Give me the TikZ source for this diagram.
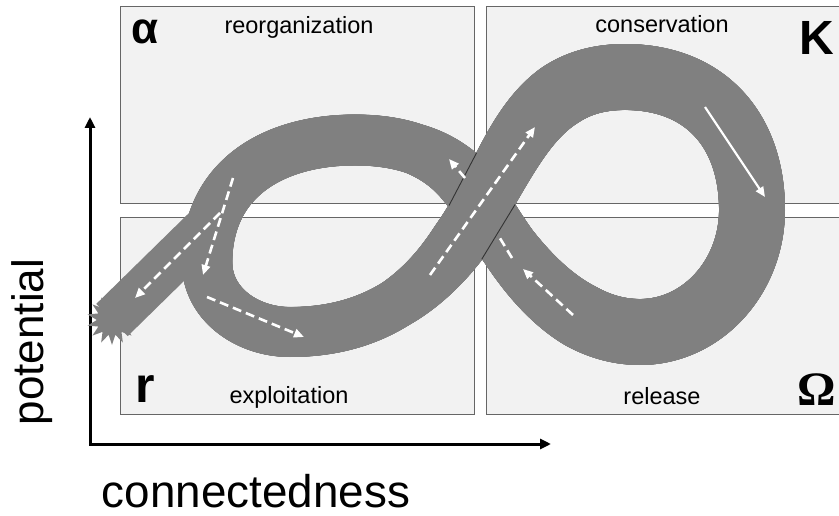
\documentclass[tikz,border=0pt]{standalone}
\usepackage{fontspec}
\setmainfont{Liberation Sans}
\newfontfamily\omegafont{Liberation Serif}
\usetikzlibrary{arrows.meta,shapes.geometric,decorations.markings}
\definecolor{bandgray}{HTML}{808080}
\definecolor{boxfill}{HTML}{F2F2F2}
\definecolor{boxline}{HTML}{666666}
\definecolor{edgeline}{HTML}{333333}
\def\bandA{.. controls (335.5,332) and (372.65,320.25) .. (403.85,298.5)}
\def\bandB{.. controls (435.05,276.75) and (460.3,245) .. (482,205)}
\def\bandC{.. controls (501.1,169.85) and (516.85,137.85) .. (537.83,114.64)}
\def\bandD{.. controls (558.8,91.43) and (585,77) .. (625,77)}
\def\bandE{.. controls (705,77) and (752,130) .. (752,210)}
\def\bandF{.. controls (752,277) and (702,332) .. (640,332)}
\def\bandG{.. controls (607.5,332) and (578.63,318.65) .. (552.56,296.1)}
\def\bandH{.. controls (526.5,273.55) and (503.25,241.8) .. (482,205)}
\def\bandI{.. controls (468.25,181.2) and (450.25,164.95) .. (428.81,154.65)}
\def\bandJ{.. controls (407.375,144.35) and (382.5,140) .. (355,140)}
\def\bandK{.. controls (272.5,140) and (207,179.5) .. (207,262)}
\def\bandL{.. controls (207,304.5) and (247.5,332) .. (290,332)}
\begin{document}
\begin{tikzpicture}[x=1pt,y=-1pt,
  quad/.style={draw=boxline, line width=1.2pt, fill=boxfill, anchor=north west,
    minimum width=354pt, minimum height=197pt, inner sep=0pt},
  lbl/.style={anchor=base, font=\fontsize{23.5}{28}\selectfont, inner sep=0pt},
  greek/.style={anchor=base, font=\fontsize{46}{50}\selectfont\bfseries, inner sep=0pt},
  band/.style={draw=bandgray, line cap=butt, line join=round},
  widthprofile/.style={postaction={decorate, decoration={markings,
    mark=between positions 0 and 1 step 1pt with {
      \pgfmathsetmacro\dd{\pgfkeysvalueof{/pgf/decoration/mark info/distance from start}}
      \pgfmathsetmacro\hw{25+4*max(0,min(1,(\dd-110)/90))+4*max(0,min(1,(\dd-260)/120))-4*max(0,min(1,(\dd-900)/100))-3.5*max(0,min(1,(\dd-1075)/65))-0.5*max(0,min(1,(\dd-1380)/100))}
      \fill[bandgray] (0,0) circle[radius=\hw pt];
    }}}},
  flow/.style={draw=white, line width=2.6pt, dash pattern=on 9pt off 5pt,
    -{Triangle[length=10pt,width=8.5pt]}},
  flowline/.style={draw=white, line width=2.6pt, dash pattern=on 9pt off 5pt},
  solidflow/.style={draw=white, line width=2.2pt, -{Triangle[length=10pt,width=8.5pt]}},
  axis/.style={draw=black, line width=3pt, {Triangle[length=11pt,width=10pt]}-{Triangle[length=11pt,width=10pt]}},
  crossedge/.style={draw=edgeline, line width=0.9pt}
]
\useasboundingbox (0,0) rectangle (839,516);
% quadrants
\node[quad] (qalpha) at (120,6) {};
\node[quad, minimum width=370pt] (qk) at (486,6) {};
\node[quad] (qr) at (120,217) {};
\node[quad, minimum width=370pt] (qomega) at (486,217) {};
% quadrant labels
\node[lbl] (treorg) at (299,34) {reorganization};
\node[lbl] (tcons) at (662,33) {conservation};
\node[lbl] (texpl) at (289,403) {exploitation};
\node[lbl] (trel) at (662,404) {release};
\node[greek, font=\fontsize{44}{48}\selectfont\bfseries] (galpha) at (145.5,44) {α};
\node[greek, font=\fontsize{48}{52}\selectfont\bfseries] (gk) at (816.5,55) {K};
\node[greek, font=\fontsize{50}{54}\selectfont\bfseries] (gr) at (145,402) {r};
\node[greek, font=\fontsize{48}{52}\selectfont\omegafont\bfseries] (gomega) at (816.5,405) {Ω};
% axes
\coordinate (ytip) at (90,117);
\coordinate (origin) at (90,444);
\coordinate (xtip) at (551,444);
\draw[axis] (ytip) -- (origin) -- (xtip);
\node[anchor=base, rotate=90, font=\fontsize{44}{48}\selectfont, inner sep=0pt] (tpot) at (43,342) {potential};
\node[anchor=base, font=\fontsize{45.8}{50}\selectfont, inner sep=0pt] (tconn) at (256,507) {connectedness};
% band
\node[star, star points=14, star point ratio=1.65, minimum size=50pt, inner sep=0pt, fill=bandgray] (burst) at (112,320) {};
\coordinate (branchend) at (212,222);
\draw[band, line width=45pt] (burst.center) -- (branchend);
\draw[band, line width=50pt] (290,332) \bandA \bandB \bandC \bandD \bandE \bandF \bandG \bandH \bandI \bandJ \bandK \bandL -- cycle;
\path[widthprofile] (290,332) \bandA \bandB \bandC \bandD \bandE \bandF \bandG \bandH \bandI \bandJ \bandK \bandL;
% crossing edges of the upper strand
\draw[crossedge] (476.5,153) -- (449,205.5);
\draw[crossedge] (515,204.6) -- (481.7,259.3);
% flow arrows
\coordinate (f1a) at (430,275); \coordinate (f1b) at (535,127);
\coordinate (f2a) at (573,315); \coordinate (f2b) at (523,269);
\coordinate (f3a) at (512,258); \coordinate (f3b) at (498,235);
\coordinate (f4a) at (465,178); \coordinate (f4b) at (449,159);
\coordinate (f5a) at (233,178); \coordinate (f5b) at (203,275);
\coordinate (f6a) at (220,213); \coordinate (f6b) at (135,298);
\coordinate (f7a) at (207,297); \coordinate (f7b) at (304,337);
\coordinate (f8a) at (705,107); \coordinate (f8b) at (765,197);
\draw[flow] (f1a) -- (f1b);
\draw[flow] (f2a) -- (f2b);
\draw[flowline] (f3a) -- (f3b);
\draw[flow] (f4a) -- (f4b);
\draw[flow] (f5a) -- (f5b);
\draw[flow] (f6a) -- (f6b);
\draw[flow] (f7a) -- (f7b);
\draw[solidflow] (f8a) -- (f8b);
\end{tikzpicture}
\end{document}
